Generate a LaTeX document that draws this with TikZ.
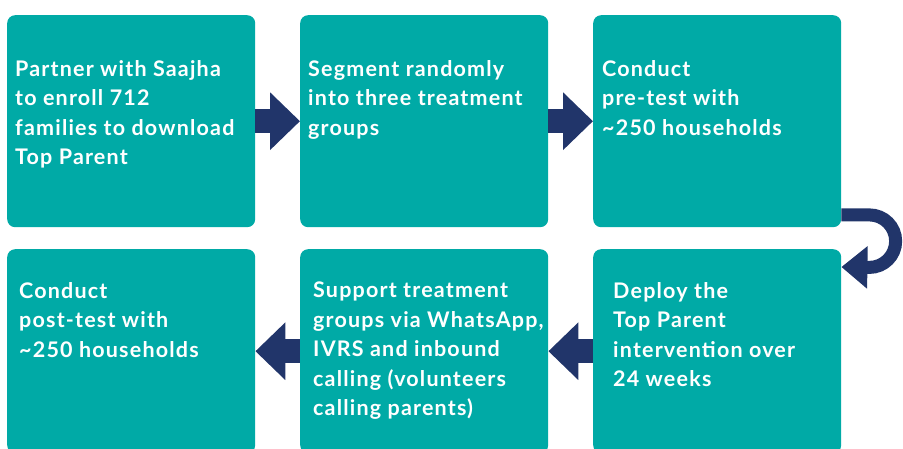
\documentclass[tikz,border=0pt]{standalone}
\usepackage{fontspec}
\setmainfont{Lato}
\newfontfamily\kastenschrift{Lato}[LetterSpace=5.5]
\usepackage{tikz}
\usetikzlibrary{arrows.meta}
\definecolor{tuerkis}{HTML}{00AAA6}
\definecolor{marine}{HTML}{21356A}
\def \kastenBreite {248pt}
\def \hoeheOben {212pt}
\def \hoeheUnten {204pt}
\tikzset{
  kasten/.style={rectangle,rounded corners=8pt,fill=tuerkis,inner sep=0pt,anchor=north west,minimum width=\kastenBreite},
  kastentext/.style={anchor=north west,inner sep=0pt,align=left,text=white,font=\kastenschrift\bfseries\fontsize{21.5}{29.5}\selectfont},
  pfeil/.style={marine,line width=24pt,-{Triangle[length=30pt,width=56pt]}},
  bogenpfeil/.style={marine,line width=13pt,-{Triangle[length=26pt,width=41pt]}},
}

\begin{document}
\begin{tikzpicture}[x=1pt,y=1pt]
  \useasboundingbox (0,0) rectangle (903,-448);
  \clip (0,0) rectangle (903,-448);
  \path (7,-15)
  node[kasten,minimum height=\hoeheOben] (obenlinks) {}
  ++(293,0) node[kasten,minimum height=\hoeheOben] (obenmitte) {}
  ++(293,0) node[kasten,minimum height=\hoeheOben] (obenrechts) {}
  ;
  \path (7,-249)
  node[kasten,minimum height=\hoeheUnten] (untenlinks) {}
  ++(293,0) node[kasten,minimum height=\hoeheUnten] (untenmitte) {}
  ++(293,0) node[kasten,minimum height=\hoeheUnten] (untenrechts) {}
  ;
  \node[kastentext] (text-obenlinks) at ([xshift=8pt,yshift=-45pt]obenlinks.north west)
  {Partner with Saajha\\to enroll 712\\families to download\\Top Parent};
  \node[kastentext] (text-obenmitte) at ([xshift=8pt,yshift=-45pt]obenmitte.north west)
  {Segment randomly\\into three treatment\\groups};
  \node[kastentext] (text-obenrechts) at ([xshift=9pt,yshift=-45pt]obenrechts.north west)
  {Conduct\\pre-test with\\\textasciitilde250 households};
  \node[kastentext] (text-untenlinks) at ([xshift=12pt,yshift=-33pt]untenlinks.north west)
  {Conduct\\post-test with\\\textasciitilde250 households};
  \node[kastentext] (text-untenmitte) at ([xshift=13pt,yshift=-33pt]untenmitte.north west)
  {Support treatment\\groups via WhatsApp,\\IVRS and inbound\\calling (volunteers\\calling parents)};
  \node[kastentext] (text-untenrechts) at ([xshift=20pt,yshift=-33pt]untenrechts.north west)
  {Deploy the\\Top Parent\\intervention over\\24 weeks};
  \draw[pfeil] (obenlinks.east) -- (obenmitte.west);
  \draw[pfeil] (obenmitte.east) -- (obenrechts.west);
  \draw[bogenpfeil] ([yshift=12.5pt]obenrechts.south east) -- ++(28,0)
  arc[start angle=90,end angle=-90,radius=26.25]
  -- ([yshift=-18pt]untenrechts.north east);
  \draw[pfeil] (untenrechts.west) -- (untenmitte.east);
  \draw[pfeil] (untenmitte.west) -- (untenlinks.east);
\end{tikzpicture}
\end{document}
